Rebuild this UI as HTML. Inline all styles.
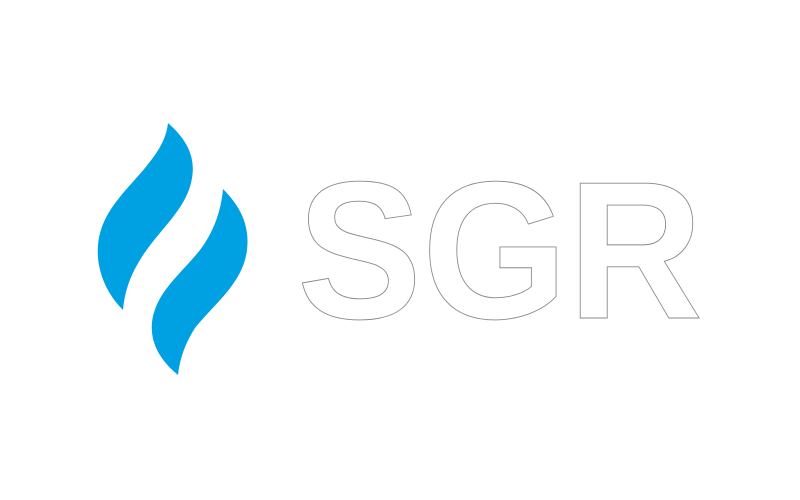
<!DOCTYPE html>
<html><head><meta charset="utf-8"><style>
html,body{margin:0;padding:0;background:#fff;width:800px;height:500px;overflow:hidden}
</style></head><body>
<svg width="800" height="500" viewBox="0 0 800 500">
<g fill="#00a1e2">
<path d="M168,123 C185,138 196,155 192,178 C188,205 165,225 148,248 C135,266 125,285 123,310 C105,292 96,268 98,245 C101,212 125,192 145,168 C158,152 166,140 168,123 Z"/>
<path d="M223,189 C240,206 250,225 247,250 C243,283 215,303 195,328 C186,342 180,357 178,375 C160,360 150,343 152,322 C156,292 180,275 200,250 C213,233 221,212 223,189 Z"/>
</g>
<text x="297" y="318" textLength="406" lengthAdjust="spacingAndGlyphs" font-family="Liberation Sans, sans-serif" font-weight="bold" font-size="196" fill="#fff" stroke="#888" stroke-width="0.9">SGR</text>
</svg>
</body></html>
